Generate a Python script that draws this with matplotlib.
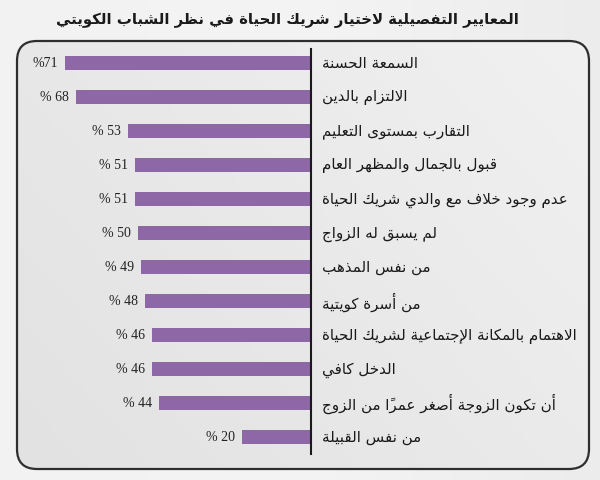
import numpy as np
import matplotlib
matplotlib.use("Agg")
import matplotlib.pyplot as plt
from matplotlib.patches import FancyBboxPatch
from matplotlib.transforms import blended_transform_factory
from matplotlib.colors import LinearSegmentedColormap

title = "المعايير التفصيلية لاختيار شريك الحياة في نظر الشباب الكويتي"
categories = [
    "السمعة الحسنة",
    "الالتزام بالدين",
    "التقارب بمستوى التعليم",
    "قبول بالجمال والمظهر العام",
    "عدم وجود خلاف مع والدي شريك الحياة",
    "لم يسبق له الزواج",
    "من نفس المذهب",
    "من أسرة كويتية",
    "الاهتمام بالمكانة الإجتماعية لشريك الحياة",
    "الدخل كافي",
    "أن تكون الزوجة أصغر عمراً من الزوج",
    "من نفس القبيلة",
]
values = [71, 68, 53, 51, 51, 50, 49, 48, 46, 46, 44, 20]
value_labels = ["%71", "% 68", "% 53", "% 51", "% 51", "% 50", "% 49",
                "% 48", "% 46", "% 46", "% 44", "% 20"]

# ---- minimal Arabic shaping (presentation forms) ----
FORMS = {  # iso, fin, ini, med
    'ء': (0xFE80,), 'آ': (0xFE81, 0xFE82), 'أ': (0xFE83, 0xFE84),
    'ؤ': (0xFE85, 0xFE86), 'إ': (0xFE87, 0xFE88),
    'ئ': (0xFE89, 0xFE8A, 0xFE8B, 0xFE8C), 'ا': (0xFE8D, 0xFE8E),
    'ب': (0xFE8F, 0xFE90, 0xFE91, 0xFE92), 'ة': (0xFE93, 0xFE94),
    'ت': (0xFE95, 0xFE96, 0xFE97, 0xFE98), 'ث': (0xFE99, 0xFE9A, 0xFE9B, 0xFE9C),
    'ج': (0xFE9D, 0xFE9E, 0xFE9F, 0xFEA0), 'ح': (0xFEA1, 0xFEA2, 0xFEA3, 0xFEA4),
    'خ': (0xFEA5, 0xFEA6, 0xFEA7, 0xFEA8), 'د': (0xFEA9, 0xFEAA),
    'ذ': (0xFEAB, 0xFEAC), 'ر': (0xFEAD, 0xFEAE), 'ز': (0xFEAF, 0xFEB0),
    'س': (0xFEB1, 0xFEB2, 0xFEB3, 0xFEB4), 'ش': (0xFEB5, 0xFEB6, 0xFEB7, 0xFEB8),
    'ص': (0xFEB9, 0xFEBA, 0xFEBB, 0xFEBC), 'ض': (0xFEBD, 0xFEBE, 0xFEBF, 0xFEC0),
    'ط': (0xFEC1, 0xFEC2, 0xFEC3, 0xFEC4), 'ظ': (0xFEC5, 0xFEC6, 0xFEC7, 0xFEC8),
    'ع': (0xFEC9, 0xFECA, 0xFECB, 0xFECC), 'غ': (0xFECD, 0xFECE, 0xFECF, 0xFED0),
    'ف': (0xFED1, 0xFED2, 0xFED3, 0xFED4), 'ق': (0xFED5, 0xFED6, 0xFED7, 0xFED8),
    'ك': (0xFED9, 0xFEDA, 0xFEDB, 0xFEDC), 'ل': (0xFEDD, 0xFEDE, 0xFEDF, 0xFEE0),
    'م': (0xFEE1, 0xFEE2, 0xFEE3, 0xFEE4), 'ن': (0xFEE5, 0xFEE6, 0xFEE7, 0xFEE8),
    'ه': (0xFEE9, 0xFEEA, 0xFEEB, 0xFEEC), 'و': (0xFEED, 0xFEEE),
    'ى': (0xFEEF, 0xFEF0), 'ي': (0xFEF1, 0xFEF2, 0xFEF3, 0xFEF4),
}
LAMALEF = {'آ': (0xFEF5, 0xFEF6), 'أ': (0xFEF7, 0xFEF8),
           'إ': (0xFEF9, 0xFEFA), 'ا': (0xFEFB, 0xFEFC)}


def is_mark(c):
    return 0x064B <= ord(c) <= 0x065F or c == '\u0670'


def dual(c):
    return c in FORMS and len(FORMS[c]) == 4


def shape(text):
    cl = []
    for ch in text:
        if is_mark(ch) and cl:
            cl[-1][1].append(ch)
        else:
            cl.append([ch, []])
    out = []
    n = len(cl)
    i = 0
    prev_joins = False
    while i < n:
        c, marks = cl[i]
        if c not in FORMS:
            out.append(c + ''.join(marks))
            prev_joins = False
            i += 1
            continue
        if c == 'ل' and i + 1 < n and cl[i + 1][0] in LAMALEF:
            f = LAMALEF[cl[i + 1][0]]
            g = chr(f[1] if prev_joins else f[0])
            out.append(g + ''.join(marks) + ''.join(cl[i + 1][1]))
            prev_joins = False
            i += 2
            continue
        nxt = cl[i + 1][0] if i + 1 < n else None
        joins_next = dual(c) and nxt in FORMS
        forms = FORMS[c]
        if len(forms) == 1:
            g = forms[0]
        elif prev_joins and joins_next:
            g = forms[3]
        elif prev_joins:
            g = forms[1]
        elif joins_next:
            g = forms[2]
        else:
            g = forms[0]
        out.append(chr(g) + ''.join(marks))
        prev_joins = dual(c)
        i += 1
    return ''.join(reversed(out))


W, H = 600, 481
fig = plt.figure(figsize=(W / 100, H / 100), dpi=100)
fig.patch.set_facecolor('#efefef')

bg = fig.add_axes([0, 0, 1, 1], zorder=-10)
bg.axis('off')
gx = np.linspace(0, 1, 256)
grad = np.tile(gx, (16, 1))
cm_out = LinearSegmentedColormap.from_list('o', ['#f2f2f2', '#f4f4f4', '#ececec'])
bg.imshow(grad, cmap=cm_out, aspect='auto', extent=[0, W, 0, H])
bg.set_xlim(0, W)
bg.set_ylim(0, H)
box = FancyBboxPatch((17, H - 470), 572, 428, boxstyle='round,pad=0,rounding_size=20',
                     facecolor='none', edgecolor='#2e2e2e', linewidth=1.6, zorder=3)
bg.add_patch(box)
cm_in = LinearSegmentedColormap.from_list('i', ['#e2e2e2', '#e9e9e9', '#f1f1f1'])
gy = np.linspace(0, 1, 256)
g2 = np.add.outer(gy * 0.4, gx * 0.6)
im = bg.imshow(g2, cmap=cm_in, aspect='auto', extent=[17, 589, H - 470, H - 42],
               origin='lower', zorder=1)
im.set_clip_path(box)

fig.text(287 / W, 1 - 20 / H, shape(title), ha='center', va='center',
         fontsize=10.7, fontweight='bold', color='#1a1a1a', family='DejaVu Sans')

x_axis_px = 311
px_per_unit = 3.46
left_px = 20
ax = fig.add_axes([left_px / W, 1 - 455 / H, (x_axis_px - left_px) / W, (455 - 50) / H])
ax.patch.set_alpha(0)
ypos = np.arange(len(values))
ax.barh(ypos, values, height=0.41, color='#8e67a6', zorder=2)
ax.set_xlim((x_axis_px - left_px) / px_per_unit, 0)
ax.set_ylim(11.5, -0.41)
for s in ['top', 'bottom', 'left']:
    ax.spines[s].set_visible(False)
ax.spines['right'].set_linewidth(1.5)
ax.spines['right'].set_color('#1a1a1a')
ax.set_xticks([])
ax.set_yticks([])

for y, v, lab in zip(ypos, values, value_labels):
    ax.annotate(lab, (v, y), xytext=(-5, 0), textcoords='offset points',
                ha='right', va='center', fontsize=10, family='Liberation Serif',
                color='#222222')

tr = blended_transform_factory(fig.transFigure, ax.transData)
for y, c in zip(ypos, categories):
    ax.text(322 / W, y, shape(c), transform=tr, ha='left', va='center',
            fontsize=10.9, family='DejaVu Sans', color='#1a1a1a', clip_on=False)

fig.savefig('out.png', dpi=100, facecolor=fig.get_facecolor())
